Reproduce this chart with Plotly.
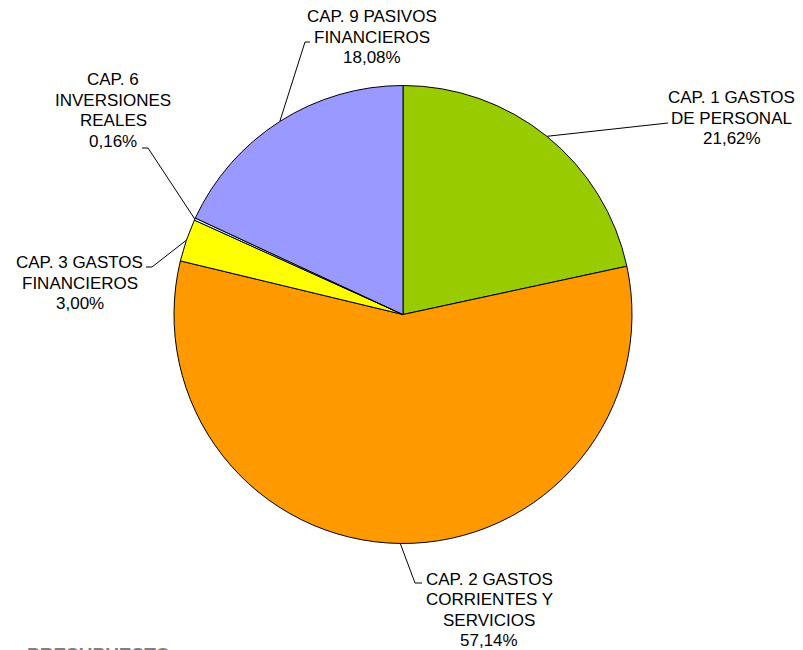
import math
import plotly.graph_objects as go

# ---- data ----
label_lines = [["CAP. 1 GASTOS", "DE PERSONAL"],
               ["CAP. 2 GASTOS", "CORRIENTES Y", "SERVICIOS"],
               ["CAP. 3 GASTOS", "FINANCIEROS"],
               ["CAP. 6", "INVERSIONES", "REALES"],
               ["CAP. 9 PASIVOS", "FINANCIEROS"]]
values = [21.62, 57.14, 3.00, 0.16, 18.08]
pct_text = ["21,62%", "57,14%", "3,00%", "0,16%", "18,08%"]
colors = ["#99CC00", "#FF9900", "#FFFF00", "#CCFFFF", "#9999FF"]

# ---- layout constants (screen pixels; page body has an 8px margin) ----
OFF = 8
SW, SH = 803, 650
W, H = SW - OFF, SH - OFF
CX, CY, R = 403, 314.5, 229
FONT = "Liberation Sans, Arial"
FS = 17
LINE = 20.6
# elbow points of leader lines and label positions (center x, first-line center y)
elbows = [[(668, 123)], [(415, 583), (422, 583)], [(152, 267), (146, 267)],
          [(148, 148), (142, 148)], [(305, 42), (310, 42)]]
label_pos = [(731.5, 97.5), (489, 579), (79.5, 262.5), (113.3, 79.7), (372, 16.5)]

fig = go.Figure()
fig.add_trace(go.Pie(
    labels=[" ".join(l) for l in label_lines], values=values, sort=False,
    direction="clockwise", rotation=0,
    marker=dict(colors=colors, line=dict(color="black", width=1)),
    textinfo="none", hoverinfo="label+percent", showlegend=False,
    domain=dict(x=[(CX - R - OFF) / W, (CX + R - OFF) / W],
                y=[(SH - (CY + R)) / H, (SH - (CY - R)) / H]),
))

total = sum(values)
cum = 0
for i, v in enumerate(values):
    mid = (cum + v / 2) / total * 2 * math.pi
    cum += v
    x0 = CX + R * math.sin(mid)
    y0 = CY - R * math.cos(mid)
    xs = [x0] + [p[0] for p in elbows[i]]
    ys = [y0] + [p[1] for p in elbows[i]]
    fig.add_trace(go.Scatter(x=xs, y=ys, mode="lines", line=dict(color="black", width=1),
                             hoverinfo="skip", showlegend=False))
    lines = label_lines[i] + [pct_text[i]]
    for k, t in enumerate(lines):
        fig.add_annotation(x=label_pos[i][0], y=label_pos[i][1] + k * LINE, xref="x", yref="y",
                           text=t, showarrow=False, xanchor="center", yanchor="middle",
                           font=dict(family=FONT, size=FS, color="black"))

fig.add_annotation(x=25, y=642, xref="x", yref="y", text="<b>PRESUPUESTO</b>",
                   showarrow=False, xanchor="left", yanchor="top",
                   font=dict(family=FONT, size=19, color="#808080"))

fig.update_xaxes(range=[OFF, SW], visible=False, fixedrange=True)
fig.update_yaxes(range=[SH, OFF], visible=False, fixedrange=True)
fig.update_layout(width=W, height=H, margin=dict(l=0, r=0, t=0, b=0),
                  paper_bgcolor="white", plot_bgcolor="rgba(0,0,0,0)")
fig.write_html("out.html")
